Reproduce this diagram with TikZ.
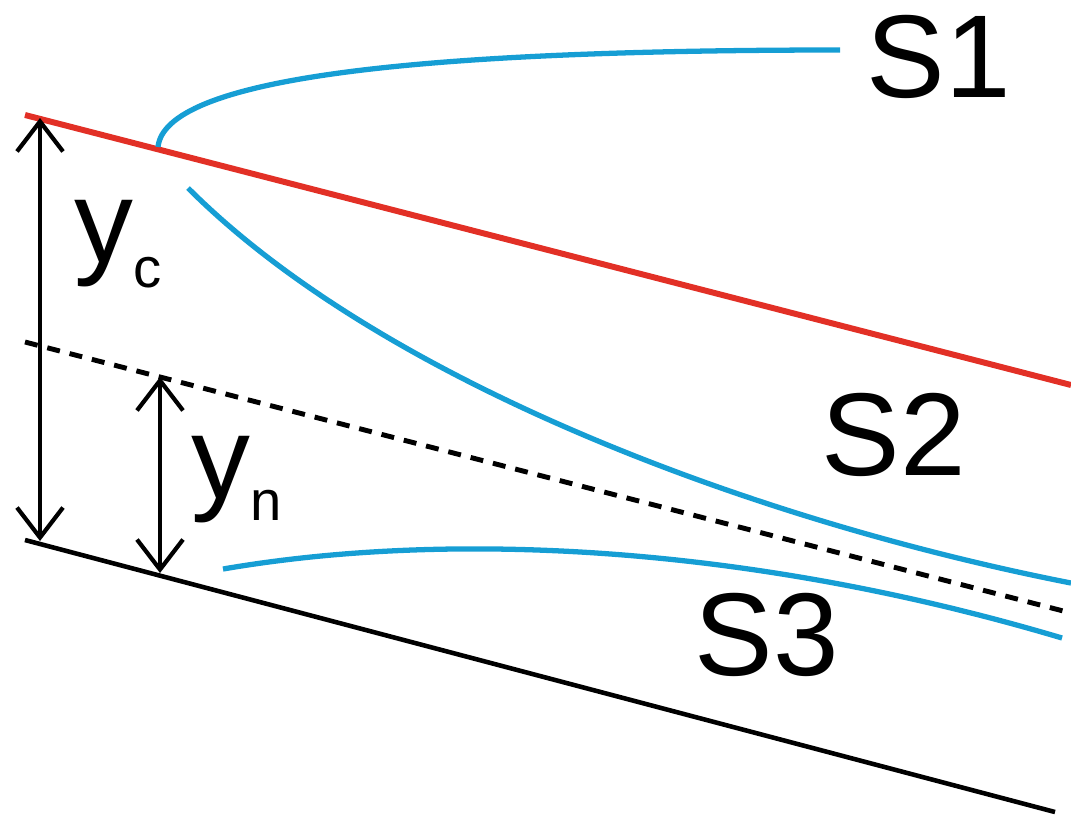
\documentclass[tikz,border=0pt]{standalone}
\usepackage{fontspec}
\setmainfont{Liberation Sans}
\usetikzlibrary{arrows.meta}
\definecolor{flowred}{RGB}{226,48,38}
\definecolor{flowblue}{RGB}{22,158,212}
\newcommand{\depthsub}[2]{\raisebox{#1}{\fontsize{16}{18}\selectfont #2}}

\begin{document}
\begin{tikzpicture}[x=0.01cm, y=-0.01cm,
    profile/.style={line width=1.5pt, flowblue},
    depth/.style={line width=1.2pt, {Straight Barb[length=3mm,width=4.6mm]}-{Straight Barb[length=3mm,width=4.6mm]}},
    curvetag/.style={inner sep=0pt, anchor=base west, font=\fontsize{33.5}{40}\selectfont}]
    \useasboundingbox (0,0) rectangle (1071,821);

    % Critical depth line
    \coordinate (crit-l) at (25,115);
    \coordinate (crit-r) at (1071,385);
    \draw[line width=1.7pt, flowred] (crit-l) -- (crit-r);

    % Normal depth line
    \coordinate (norm-l) at (25,342);
    \coordinate (norm-r) at (1071,613);
    \draw[line width=1.4pt, dash pattern=on 0.13cm off 0.1cm] (norm-l) -- (norm-r);

    % Channel bed
    \coordinate (bed-l) at (25,540);
    \coordinate (bed-r) at (1055,812);
    \draw[line width=1.3pt] (bed-l) -- (bed-r);

    % Depths
    \coordinate (yc-top) at (40,118);
    \coordinate (yc-bot) at (40,541);
    \coordinate (yn-top) at (160,377);
    \coordinate (yn-bot) at (160,573);
    \draw[depth] (yc-top) -- (yc-bot);
    \draw[depth] (yn-top) -- (yn-bot);
    \node[curvetag] (yc) at (74,262) {y\depthsub{-0.25cm}{c}};
    \node[curvetag] (yn) at (191,498) {y\depthsub{-0.22cm}{n}};

    % Water surface profiles
    \draw[profile] (158,147) .. controls (165,80) and (400,50) .. (840,50);
    \draw[profile] (188,188) .. controls (380,380) and (750,520) .. (1071,583);
    \draw[profile] (223,569) .. controls (450,530) and (750,545) .. (1062,638);

    \node[curvetag] (s1) at (866,97) {S1};
    \node[curvetag] (s2) at (821,475) {S2};
    \node[curvetag] (s3) at (694,675) {S3};
\end{tikzpicture}
\end{document}
